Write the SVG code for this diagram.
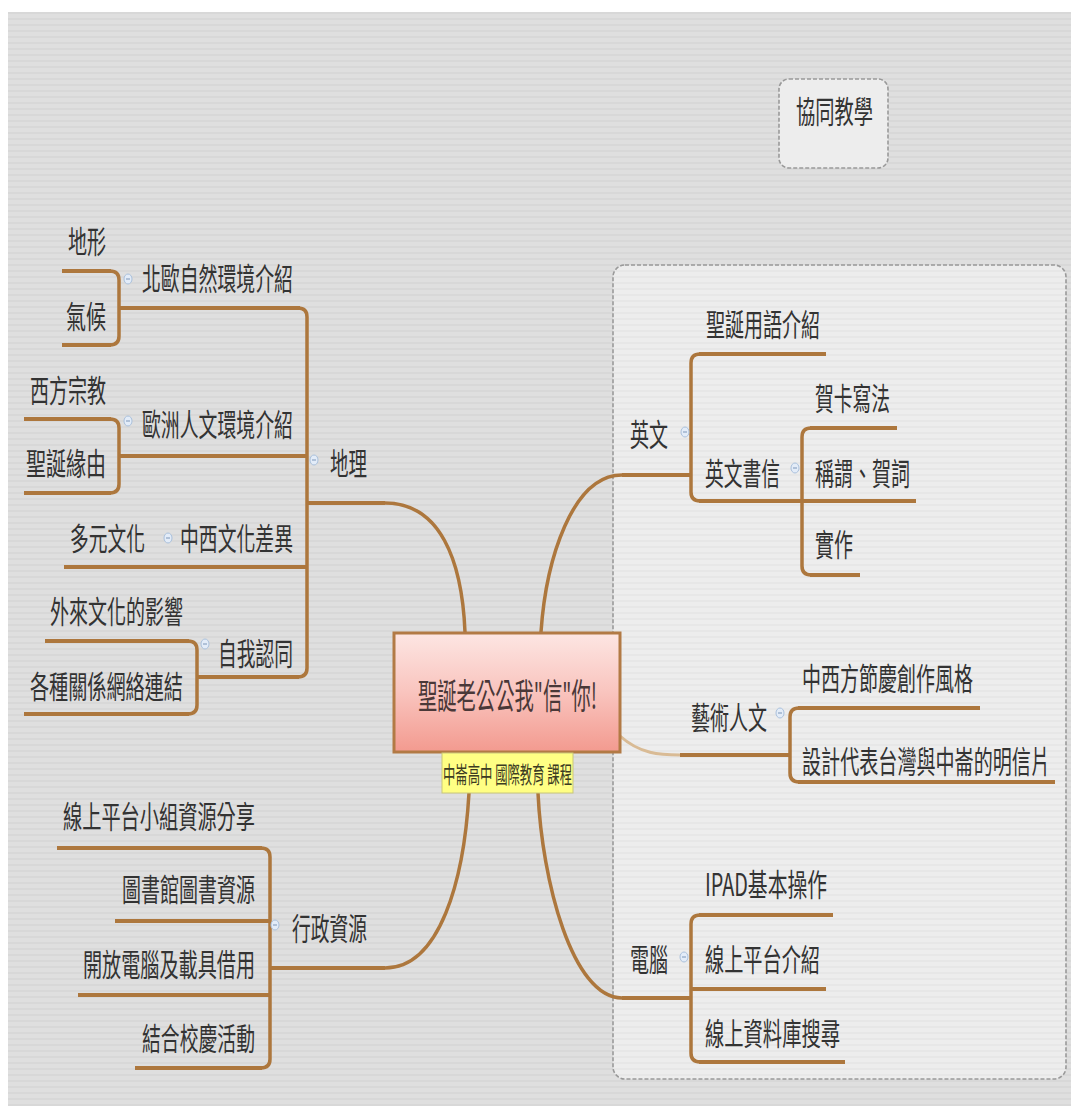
<svg xmlns="http://www.w3.org/2000/svg" width="1071" height="1106" viewBox="0 0 1071 1106">
<defs>
<pattern id="stripes" width="8" height="6" patternUnits="userSpaceOnUse">
<rect width="8" height="6" fill="#dfdfdf"/>
<rect y="0" width="8" height="2" fill="#d8d8d8"/>
</pattern>
<pattern id="stripes2" width="8" height="6" patternUnits="userSpaceOnUse">
<rect width="8" height="6" fill="#ededed"/>
<rect y="0" width="8" height="2" fill="#e7e7e7"/>
</pattern>
<linearGradient id="rootGrad" x1="0" y1="0" x2="0" y2="1">
<stop offset="0" stop-color="#fde6e3"/>
<stop offset="0.5" stop-color="#f9c4be"/>
<stop offset="1" stop-color="#f39a8f"/>
</linearGradient>
<g id="icon">
<ellipse cx="0" cy="0" rx="4" ry="5" fill="#e3ecf8" stroke="#a9c0dc" stroke-width="1"/>
<line x1="-2" y1="0" x2="2" y2="0" stroke="#7d96b8" stroke-width="1"/>
</g>
</defs>
<style>
.t{font-family:"Noto Sans CJK TC","Noto Sans CJK SC",sans-serif;font-size:31px;fill:#333;}
.ul{fill:none;stroke:#ad773d;stroke-width:4;stroke-linecap:butt;}
.br{fill:none;stroke:#ad773d;stroke-width:3.5;}
.cv{fill:none;stroke:#ad773d;stroke-width:3.5;}
.dash{stroke:#999;stroke-width:1.6;stroke-dasharray:4 2;}
</style>
<rect x="0" y="0" width="1071" height="1106" fill="#ffffff"/>
<rect x="8" y="12" width="1063" height="1094" fill="url(#stripes)"/>

<g id="container">
<rect x="613" y="265" width="453" height="814" rx="12" fill="url(#stripes2)" class="dash"/>
</g>
<g id="n-xietong">
<rect x="779" y="79" width="109" height="89" rx="10" fill="#ededed" class="dash"/>
<text class="t" x="796" y="123" textLength="77" lengthAdjust="spacingAndGlyphs">協同教學</text>
</g>

<g id="connectors">
<path class="cv" d="M385,503 C440,503 462,560 465,632"/>
<path class="cv" d="M385,968 C440,968 464,880 469,793"/>
<path class="cv" d="M622,475 C572,475 546,560 541,632"/>
<path class="cv" d="M622,998 C572,998 542,880 538,793"/>
<path fill="none" stroke="#d9bb95" stroke-width="3" d="M620,736 C640,754 660,755 680,755"/>
<path class="br" d="M298,308 Q307,308 307,317 V668 Q307,677 298,677"/>
<path class="br" d="M110,271 Q119,271 119,280 V336 Q119,345 110,345"/>
<path class="br" d="M110,419 Q119,419 119,428 V484 Q119,493 110,493"/>
<path class="br" d="M188,641 Q197,641 197,650 V705 Q197,714 188,714"/>
<path class="br" d="M261,848 Q270,848 270,857 V1059 Q270,1068 261,1068"/>
<path class="br" d="M700,354 Q691,354 691,363 V492 Q691,501 700,501"/>
<path class="br" d="M811,428 Q802,428 802,437 V566 Q802,575 811,575"/>
<path class="br" d="M799,708 Q790,708 790,717 V773 Q790,782 799,782"/>
<path class="br" d="M700,915 Q691,915 691,924 V1053 Q691,1062 700,1062"/>
</g>

<g id="n-root">
<rect x="394" y="633" width="226" height="119" fill="url(#rootGrad)" stroke="#b27a45" stroke-width="3"/>
<text x="418" y="709" textLength="179" lengthAdjust="spacingAndGlyphs" style="font-family:'Noto Sans CJK TC','Noto Sans CJK SC',sans-serif;font-size:35px;fill:#4a3838;">聖誕老公公我"信"你!</text>
</g>
<g id="n-label">
<rect x="442" y="753" width="131" height="40" fill="#ffff84" stroke="#c9c77a" stroke-width="1"/>
<text x="443" y="783" textLength="129" lengthAdjust="spacingAndGlyphs" style="font-family:'Noto Sans CJK TC','Noto Sans CJK SC',sans-serif;font-size:23px;fill:#3b3b22;">中崙高中 國際教育 課程</text>
</g>

<g id="n-dili">
<path class="ul" d="M307,503 H385"/>
<use href="#icon" x="314" y="460"/>
<text class="t" x="330" y="475" textLength="37" lengthAdjust="spacingAndGlyphs">地理</text>
</g>
<g id="n-beiou">
<path class="ul" d="M119,308 H300"/>
<use href="#icon" x="128" y="279"/>
<text class="t" x="142" y="290" textLength="151" lengthAdjust="spacingAndGlyphs">北歐自然環境介紹</text>
</g>
<g id="n-dixing">
<path class="ul" d="M62,271 H111"/>
<text class="t" x="68" y="253" textLength="38" lengthAdjust="spacingAndGlyphs">地形</text>
</g>
<g id="n-qihou">
<path class="ul" d="M62,345 H111"/>
<text class="t" x="66" y="328" textLength="40" lengthAdjust="spacingAndGlyphs">氣候</text>
</g>
<g id="n-ouzhou">
<path class="ul" d="M119,456 H307"/>
<use href="#icon" x="128" y="421"/>
<text class="t" x="142" y="436" textLength="151" lengthAdjust="spacingAndGlyphs">歐洲人文環境介紹</text>
</g>
<g id="n-xifang">
<path class="ul" d="M24,419 H111"/>
<text class="t" x="30" y="402" textLength="76" lengthAdjust="spacingAndGlyphs">西方宗教</text>
</g>
<g id="n-yuanyou">
<path class="ul" d="M24,493 H111"/>
<text class="t" x="26" y="475" textLength="80" lengthAdjust="spacingAndGlyphs">聖誕緣由</text>
</g>
<g id="n-zhongxi">
<path class="ul" d="M160,567 H307"/>
<use href="#icon" x="168" y="538"/>
<text class="t" x="180" y="550" textLength="113" lengthAdjust="spacingAndGlyphs">中西文化差異</text>
</g>
<g id="n-duoyuan">
<path class="ul" d="M64,567 H160"/>
<text class="t" x="70" y="550" textLength="75" lengthAdjust="spacingAndGlyphs">多元文化</text>
</g>
<g id="n-ziwo">
<path class="ul" d="M197,677 H299"/>
<use href="#icon" x="205" y="644"/>
<text class="t" x="218" y="665" textLength="75" lengthAdjust="spacingAndGlyphs">自我認同</text>
</g>
<g id="n-wailai">
<path class="ul" d="M45,641 H189"/>
<text class="t" x="50" y="623" textLength="133" lengthAdjust="spacingAndGlyphs">外來文化的影響</text>
</g>
<g id="n-guanxi">
<path class="ul" d="M24,714 H189"/>
<text class="t" x="30" y="698" textLength="153" lengthAdjust="spacingAndGlyphs">各種關係網絡連結</text>
</g>

<g id="n-xingzheng">
<path class="ul" d="M270,968 H385"/>
<use href="#icon" x="275" y="925"/>
<text class="t" x="292" y="940" textLength="75" lengthAdjust="spacingAndGlyphs">行政資源</text>
</g>
<g id="n-xianshang">
<path class="ul" d="M57,848 H262"/>
<text class="t" x="63" y="828" textLength="192" lengthAdjust="spacingAndGlyphs">線上平台小組資源分享</text>
</g>
<g id="n-tushuguan">
<path class="ul" d="M115,921 H270"/>
<text class="t" x="122" y="901" textLength="133" lengthAdjust="spacingAndGlyphs">圖書館圖書資源</text>
</g>
<g id="n-kaifang">
<path class="ul" d="M78,995 H270"/>
<text class="t" x="83" y="976" textLength="172" lengthAdjust="spacingAndGlyphs">開放電腦及載具借用</text>
</g>
<g id="n-xiaoqing">
<path class="ul" d="M135,1068 H262"/>
<text class="t" x="142" y="1050" textLength="113" lengthAdjust="spacingAndGlyphs">結合校慶活動</text>
</g>

<g id="n-yingwen">
<path class="ul" d="M622,475 H691"/>
<use href="#icon" x="685" y="432"/>
<text class="t" x="630" y="446" textLength="38" lengthAdjust="spacingAndGlyphs">英文</text>
</g>
<g id="n-yongyu">
<path class="ul" d="M699,354 H826"/>
<text class="t" x="706" y="336" textLength="114" lengthAdjust="spacingAndGlyphs">聖誕用語介紹</text>
</g>
<g id="n-shuxin">
<path class="ul" d="M699,501 H802"/>
<use href="#icon" x="795" y="468"/>
<text class="t" x="705" y="485" textLength="75" lengthAdjust="spacingAndGlyphs">英文書信</text>
</g>
<g id="n-heka">
<path class="ul" d="M810,428 H897"/>
<text class="t" x="815" y="410" textLength="75" lengthAdjust="spacingAndGlyphs">賀卡寫法</text>
</g>
<g id="n-chengwei">
<path class="ul" d="M802,501 H916"/>
<text class="t" x="815" y="485" textLength="95" lengthAdjust="spacingAndGlyphs">稱謂、賀詞</text>
</g>
<g id="n-shizuo">
<path class="ul" d="M810,575 H860"/>
<text class="t" x="815" y="556" textLength="38" lengthAdjust="spacingAndGlyphs">實作</text>
</g>

<g id="n-yishu">
<path class="ul" d="M680,755 H790"/>
<use href="#icon" x="780" y="713"/>
<text class="t" x="691" y="729" textLength="76" lengthAdjust="spacingAndGlyphs">藝術人文</text>
</g>
<g id="n-jieqing">
<path class="ul" d="M798,708 H980"/>
<text class="t" x="802" y="690" textLength="171" lengthAdjust="spacingAndGlyphs">中西方節慶創作風格</text>
</g>
<g id="n-mingxinpian">
<path class="ul" d="M798,782 H1055"/>
<text class="t" x="802" y="773" textLength="248" lengthAdjust="spacingAndGlyphs">設計代表台灣與中崙的明信片</text>
</g>

<g id="n-diannao">
<path class="ul" d="M622,998 H691"/>
<use href="#icon" x="684" y="957"/>
<text class="t" x="630" y="971" textLength="38" lengthAdjust="spacingAndGlyphs">電腦</text>
</g>
<g id="n-ipad">
<path class="ul" d="M699,915 H833"/>
<text class="t" x="705" y="896" textLength="122" lengthAdjust="spacingAndGlyphs">IPAD基本操作</text>
</g>
<g id="n-pingtai">
<path class="ul" d="M691,989 H826"/>
<text class="t" x="705" y="971" textLength="115" lengthAdjust="spacingAndGlyphs">線上平台介紹</text>
</g>
<g id="n-ziliaoku">
<path class="ul" d="M699,1062 H845"/>
<text class="t" x="705" y="1045" textLength="135" lengthAdjust="spacingAndGlyphs">線上資料庫搜尋</text>
</g>
</svg>
